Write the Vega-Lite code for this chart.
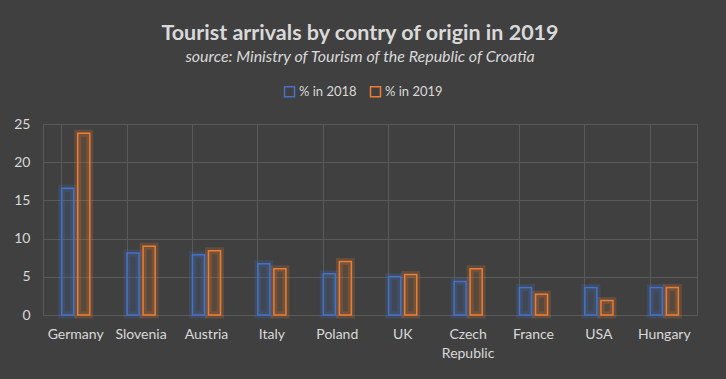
{
  "$schema": "https://vega.github.io/schema/vega-lite/v6.json",
  "width": 654,
  "height": 191,
  "autosize": {"type": "none"},
  "padding": {"left": 43, "top": 124, "right": 29, "bottom": 64},
  "background": "#404040",
  "config": {
    "font": "Lato",
    "view": {"stroke": "#595959", "strokeWidth": 1},
    "axis": {"labelColor": "#d9d9d9", "labelFont": "Lato", "labelFontSize": 14, "gridColor": "#595959", "gridWidth": 1}
  },
  "title": {
    "text": "Tourist arrivals by contry of origin in 2019",
    "subtitle": "source: Ministry of Tourism of the Republic of Croatia",
    "anchor": "middle",
    "dx": -10,
    "offset": 20,
    "color": "#d9d9d9",
    "fontSize": 21.5,
    "fontWeight": "bold",
    "font": "Lato",
    "subtitleColor": "#d9d9d9",
    "subtitleFont": "Lato",
    "subtitleFontSize": 16,
    "subtitleFontStyle": "italic",
    "subtitlePadding": 5
  },
  "data": {
    "values": [
      {"country": "Germany", "series": "% in 2018", "value": 16.6},
      {"country": "Germany", "series": "% in 2019", "value": 23.8},
      {"country": "Slovenia", "series": "% in 2018", "value": 8.1},
      {"country": "Slovenia", "series": "% in 2019", "value": 9.0},
      {"country": "Austria", "series": "% in 2018", "value": 7.9},
      {"country": "Austria", "series": "% in 2019", "value": 8.4},
      {"country": "Italy", "series": "% in 2018", "value": 6.7},
      {"country": "Italy", "series": "% in 2019", "value": 6.05},
      {"country": "Poland", "series": "% in 2018", "value": 5.4},
      {"country": "Poland", "series": "% in 2019", "value": 7.0},
      {"country": "UK", "series": "% in 2018", "value": 5.05},
      {"country": "UK", "series": "% in 2019", "value": 5.3},
      {"country": "Czech Republic", "series": "% in 2018", "value": 4.4},
      {"country": "Czech Republic", "series": "% in 2019", "value": 6.05},
      {"country": "France", "series": "% in 2018", "value": 3.6},
      {"country": "France", "series": "% in 2019", "value": 2.7},
      {"country": "USA", "series": "% in 2018", "value": 3.6},
      {"country": "USA", "series": "% in 2019", "value": 1.9},
      {"country": "Hungary", "series": "% in 2018", "value": 3.6},
      {"country": "Hungary", "series": "% in 2019", "value": 3.6}
    ]
  },
  "encoding": {
    "xOffset": {"field": "series", "type": "nominal", "scale": {"paddingInner": 0.25, "paddingOuter": 0}},
    "y": {"field": "value", "type": "quantitative", "scale": {"domain": [0, 25]},
          "axis": {"title": null, "values": [0, 5, 10, 15, 20, 25], "ticks": false, "domain": false, "grid": true, "labelPadding": 13}},
    "color": {"field": "series", "type": "nominal", "scale": {"range": ["#4472C4", "#ED7D31"]},
              "legend": {"title": null, "orient": "none", "direction": "horizontal", "legendX": 240, "legendY": -39,
                         "symbolType": "square", "symbolSize": 100, "symbolStrokeWidth": 1.5,
                         "labelColor": "#d9d9d9", "labelFontSize": 13, "labelFont": "Lato", "columnPadding": 10, "symbolOffset": 0, "labelOffset": 3,
                         "encode": {"symbols": {"update": {"fill": {"value": "transparent"}, "fillOpacity": {"value": 0}, "strokeOpacity": {"value": 1}}}}}}
  },
  "resolve": {"axis": {"x": "independent"}},
  "layer": [
    {
      "mark": {"type": "bar", "fillOpacity": 0.14, "strokeWidth": 7, "strokeOpacity": 0.2},
      "encoding": {
        "x": {"field": "country", "type": "nominal", "sort": null,
              "scale": {"paddingInner": 0.57, "paddingOuter": 0.285},
              "axis": {"orient": "top", "grid": true, "bandPosition": 0, "labels": false, "ticks": false, "domain": false, "title": null}},
        "stroke": {"field": "series", "type": "nominal", "scale": {"range": ["#4472C4", "#ED7D31"]}, "legend": null}
      }
    },
    {
      "mark": {"type": "bar", "filled": false, "strokeWidth": 1.5},
      "encoding": {
        "x": {"field": "country", "type": "nominal", "sort": null,
              "axis": {"title": null, "labelAngle": 0, "ticks": false, "domain": false, "grid": false, "labelPadding": 12,
                       "labelExpr": "datum.label == 'Czech Republic' ? ['Czech', 'Republic'] : datum.label", "labelLineHeight": 19}}
      }
    }
  ]
}
